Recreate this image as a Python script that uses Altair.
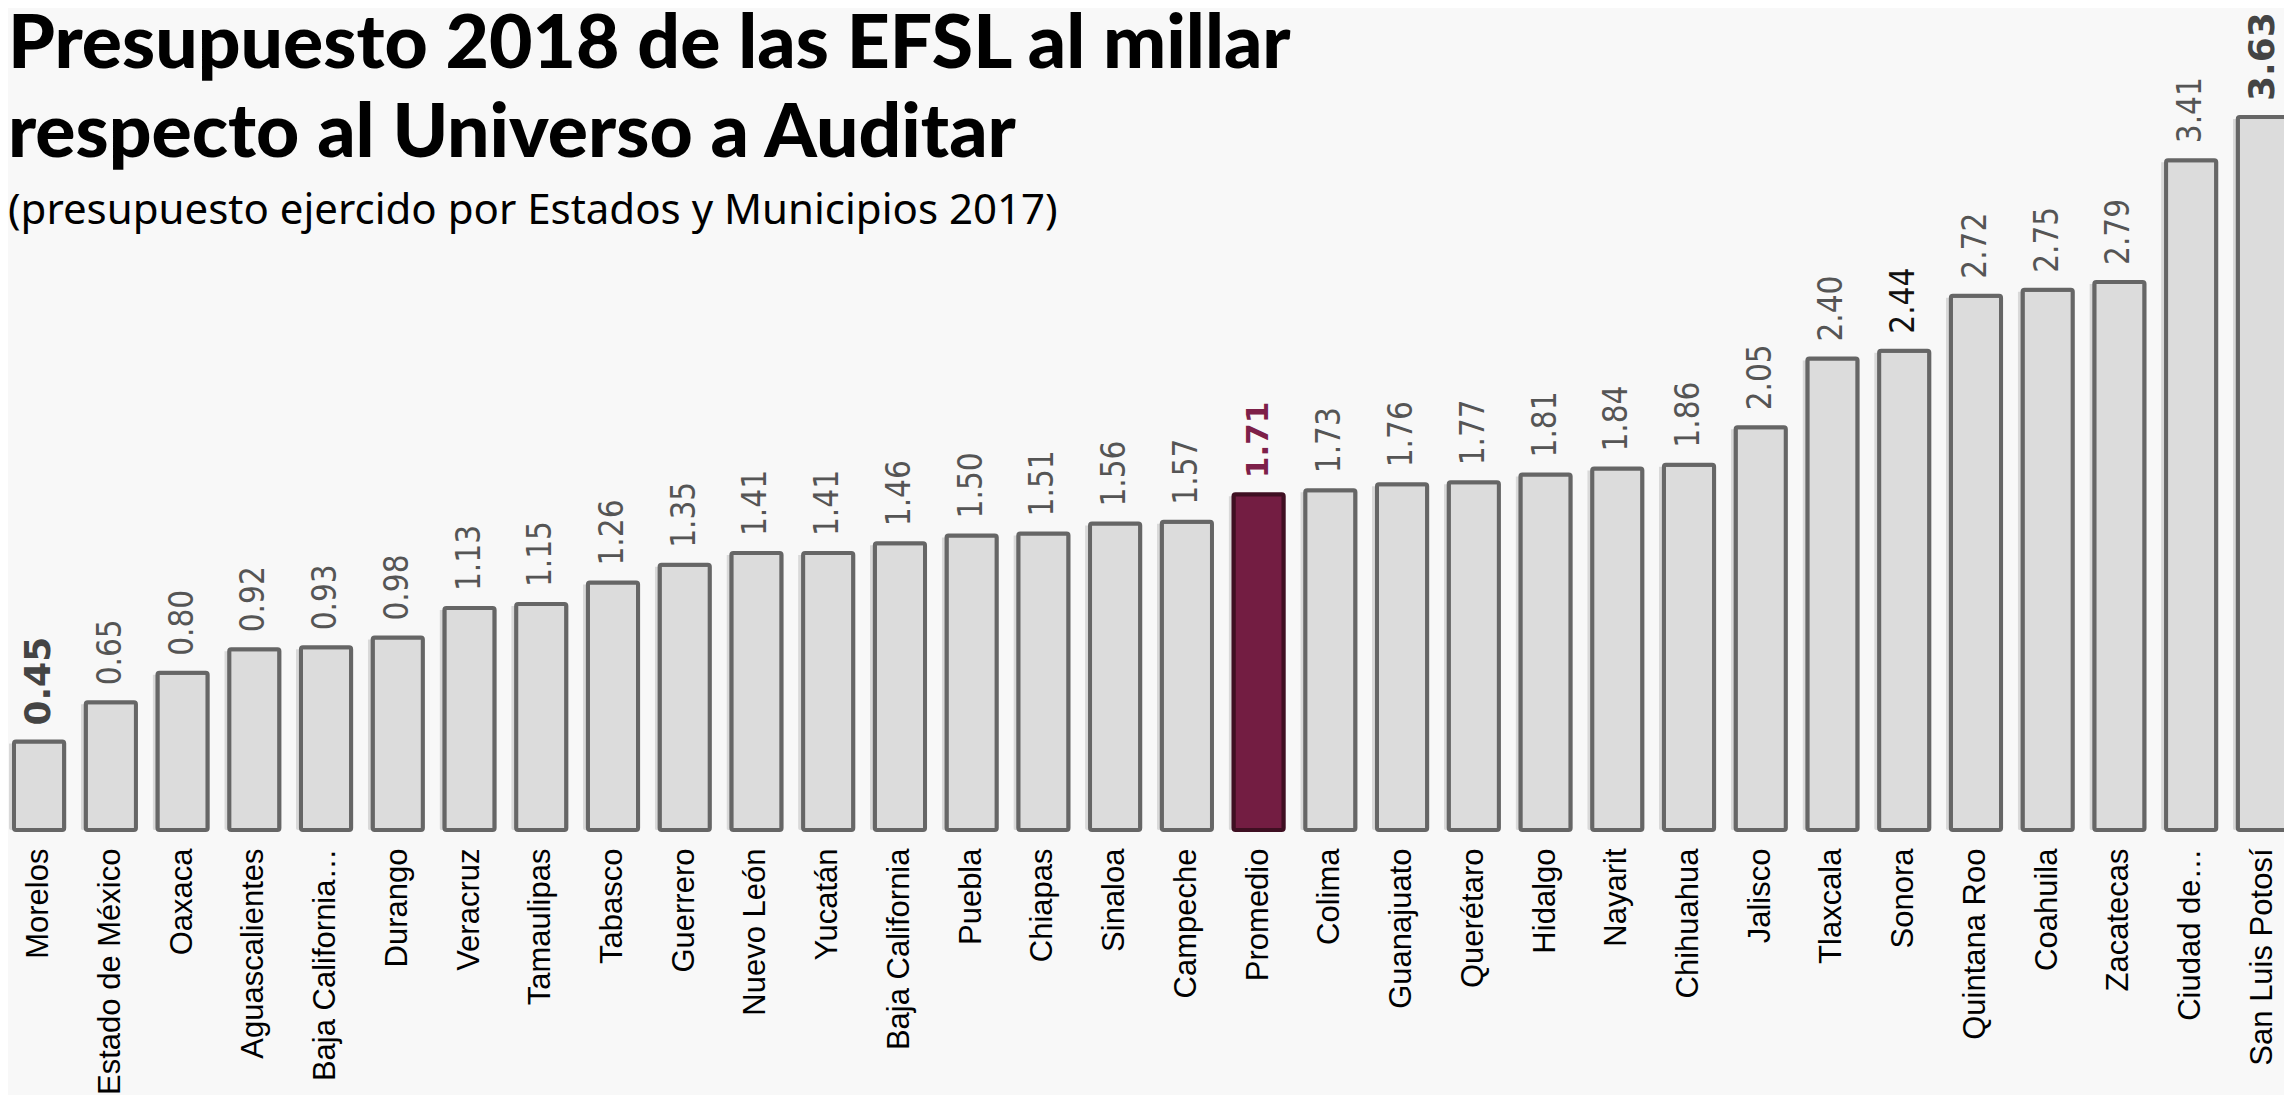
import altair as alt
import pandas as pd

estados = [
    "Morelos", "Estado de México", "Oaxaca", "Aguascalientes", "Baja California…",
    "Durango", "Veracruz", "Tamaulipas", "Tabasco", "Guerrero", "Nuevo León",
    "Yucatán", "Baja California", "Puebla", "Chiapas", "Sinaloa", "Campeche",
    "Promedio", "Colima", "Guanajuato", "Querétaro", "Hidalgo", "Nayarit",
    "Chihuahua", "Jalisco", "Tlaxcala", "Sonora", "Quintana Roo", "Coahuila",
    "Zacatecas", "Ciudad de…", "San Luis Potosí",
]
valores = [
    0.45, 0.65, 0.80, 0.92, 0.93, 0.98, 1.13, 1.15, 1.26, 1.35, 1.41, 1.41,
    1.46, 1.50, 1.51, 1.56, 1.57, 1.71, 1.73, 1.76, 1.77, 1.81, 1.84, 1.86,
    2.05, 2.40, 2.44, 2.72, 2.75, 2.79, 3.41, 3.63,
]
extremos = ["Morelos", "San Luis Potosí"]
promedio = ["Promedio"]
resaltado = ["Sonora"]

df = pd.DataFrame({"estado": estados, "valor": valores})

x = alt.X(
    "estado:N", sort=estados, title=None,
    scale=alt.Scale(paddingInner=0.3, paddingOuter=0, range=[6, 2280]),
    axis=alt.Axis(labelAngle=-90, labelFont="Liberation Sans", labelFontSize=31,
                  labelColor="#000000", labelPadding=18, labelLimit=400,
                  ticks=False, domain=False),
)
y = alt.Y("valor:Q", title=None, scale=alt.Scale(domain=[0, 4.185], nice=False),
          axis=None)

es_prom = alt.FieldOneOfPredicate(field="estado", oneOf=promedio)
es_ext = alt.FieldOneOfPredicate(field="estado", oneOf=extremos)
es_bold = alt.FieldOneOfPredicate(field="estado", oneOf=extremos + promedio)
es_res = alt.FieldOneOfPredicate(field="estado", oneOf=resaltado)

base = alt.Chart(df)

sombra = base.mark_bar(color="#000000", opacity=0.12, xOffset=-5, yOffset=2,
                       cornerRadius=2).encode(x=x, y=y)

barras = base.mark_bar(strokeWidth=4, cornerRadius=2).encode(
    x=x, y=y,
    fill=alt.condition(es_prom, alt.value("#731d42"), alt.value("#dcdcdc")),
    stroke=alt.condition(es_prom, alt.value("#3f0f22"), alt.value("#666666")),
)

etiquetas = base.transform_filter(~es_bold).mark_text(
    angle=270, align="left", baseline="middle", dx=17,
    font="Liberation Sans Narrow, DejaVu Sans Condensed, sans-serif",
    fontSize=33).encode(
    x=x, y=y,
    text=alt.Text("valor:Q", format=".2f"),
    color=alt.condition(es_res, alt.value("#111111"), alt.value("#555555")),
)

etiquetas_ext = base.transform_filter(es_ext).mark_text(
    angle=270, align="left", baseline="middle", dx=16,
    font="DejaVu Sans", fontSize=36, fontWeight="bold", color="#444444").encode(
    x=x, y=y,
    text=alt.Text("valor:Q", format=".2f"),
)

etiquetas_prom = base.transform_filter(es_prom).mark_text(
    angle=270, align="left", baseline="middle", dx=16,
    font="DejaVu Sans", fontSize=31, fontWeight="bold", color="#7d2049").encode(
    x=x, y=y,
    text=alt.Text("valor:Q", format=".2f"),
)

chart = alt.layer(sombra, barras, etiquetas, etiquetas_ext, etiquetas_prom).properties(
    width=2276, height=822,
    background="#f8f8f8",
    padding={"left": 0, "top": 0, "right": 0, "bottom": 265},
    autosize=alt.AutoSizeParams(type="none"),
    title=alt.TitleParams(
        text=["Presupuesto 2018 de las EFSL al millar", "respecto al Universo a Auditar"],
        subtitle="(presupuesto ejercido por Estados y Municipios 2017)",
        anchor="start", orient="top", offset=-225,
        font="Lato", fontWeight=900, fontSize=75, lineHeight=89, color="#000000",
        subtitleFont="Noto Sans", subtitleFontWeight=400, subtitleFontSize=42,
        subtitleColor="#000000", subtitlePadding=18,
    ),
).configure_view(stroke=None)

chart.save("out.html", embed_options={"renderer": "svg", "actions": False})
